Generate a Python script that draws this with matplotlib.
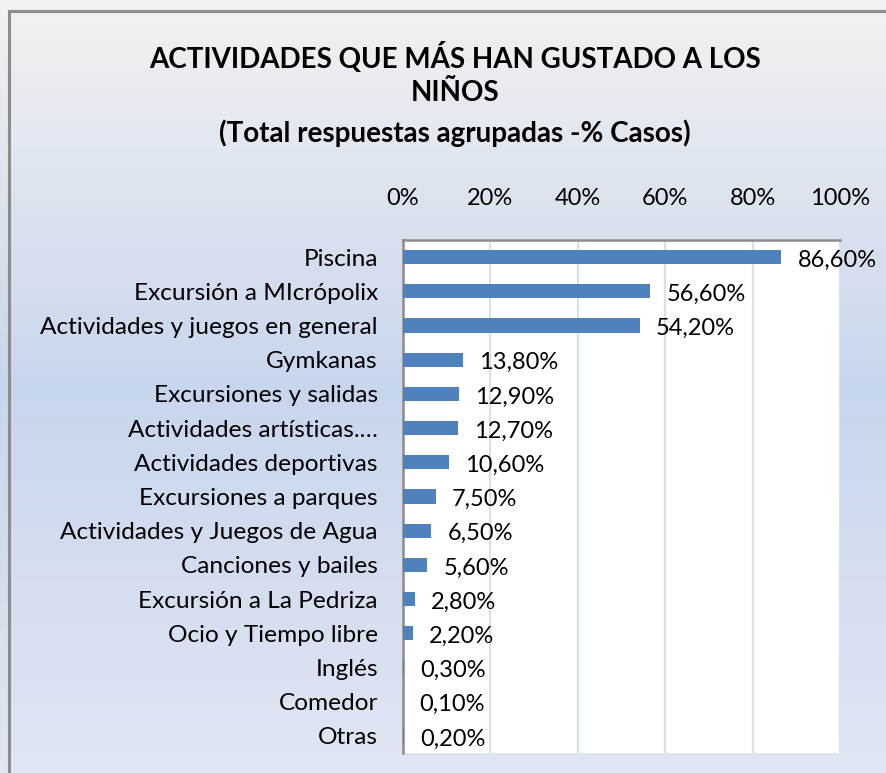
import numpy as np
import matplotlib.pyplot as plt
from matplotlib.colors import LinearSegmentedColormap
from matplotlib.patches import Rectangle

plt.rcParams['font.family'] = ['Lato', 'DejaVu Sans']

# datos
actividades = ['Piscina', 'Excursión a MIcrópolix', 'Actividades y juegos en general',
               'Gymkanas', 'Excursiones y salidas', 'Actividades artísticas.…',
               'Actividades deportivas', 'Excursiones a parques', 'Actividades y Juegos de Agua',
               'Canciones y bailes', 'Excursión a La Pedriza', 'Ocio y Tiempo libre',
               'Inglés', 'Comedor', 'Otras']
porcentajes = [86.6, 56.6, 54.2, 13.8, 12.9, 12.7, 10.6, 7.5, 6.5, 5.6, 2.8, 2.2, 0.3, 0.1, 0.2]
ticks_x = [0, 20, 40, 60, 80, 100]

W, H = 887, 773
fig = plt.figure(figsize=(W / 100, H / 100), dpi=100)

# fondo degradado tipo Excel (fila 0 = arriba)
bg = fig.add_axes([0, 0, 1, 1], zorder=-10)
cmap = LinearSegmentedColormap.from_list('fondo', [(0, '#f2f2f2'), (0.5, '#c8d6ed'), (1, '#e0e6f3')])
bg.imshow(np.linspace(0, 1, 256).reshape(-1, 1), aspect='auto', cmap=cmap,
          extent=[0, 1, 0, 1], origin='upper')
bg.set_xlim(0, 1)
bg.set_ylim(0, 1)
bg.axis('off')
# marco gris
bg.add_patch(Rectangle((9 / W, -0.2), 1.2, 1.2 - 11 / H, fill=False, edgecolor='#8c8c8c', lw=2.2))

ax = fig.add_axes([403 / W, 1 - 753 / H, 437 / W, 513 / H])
ax.set_facecolor('white')
y = np.arange(len(actividades))
ax.barh(y, porcentajes, height=0.41, color='#4f81bd', zorder=3)

for yi, v in zip(y, porcentajes):
    ax.annotate(f'{v:.2f}%'.replace('.', ','), (v, yi), xytext=(16, -3), textcoords='offset pixels',
                va='center', ha='left', fontsize=17, color='black', zorder=4)

ax.set_xlim(0, 100)
ax.set_ylim(len(actividades) - 0.5, -0.5)
ax.set_yticks(y)
ax.set_yticklabels(actividades, fontsize=17.6)
ax.set_xticks(ticks_x)
ax.set_xticklabels([f'{t}%' for t in ticks_x], fontsize=17)
ax.xaxis.tick_top()
ax.tick_params(axis='x', length=0, pad=22)
ax.tick_params(axis='y', length=0, pad=18)
ax.grid(axis='x', color='#d6e0ee', lw=1.6, zorder=0)
for s in ['right', 'bottom']:
    ax.spines[s].set_visible(False)
for s in ['left', 'top']:
    ax.spines[s].set_color('#8c8c8c')
    ax.spines[s].set_linewidth(1.8)

# título
fig.text(455 / W, 1 - 57 / H, 'ACTIVIDADES QUE MÁS HAN GUSTADO A LOS', ha='center', va='center',
         fontsize=20, fontweight='bold')
fig.text(455 / W, 1 - 93 / H, 'NIÑOS', ha='center', va='center', fontsize=20, fontweight='bold')
fig.text(455 / W, 1 - 133 / H, '(Total respuestas agrupadas -% Casos)', ha='center', va='center',
         fontsize=20, fontweight='bold')

plt.savefig('out.png', dpi=100)
